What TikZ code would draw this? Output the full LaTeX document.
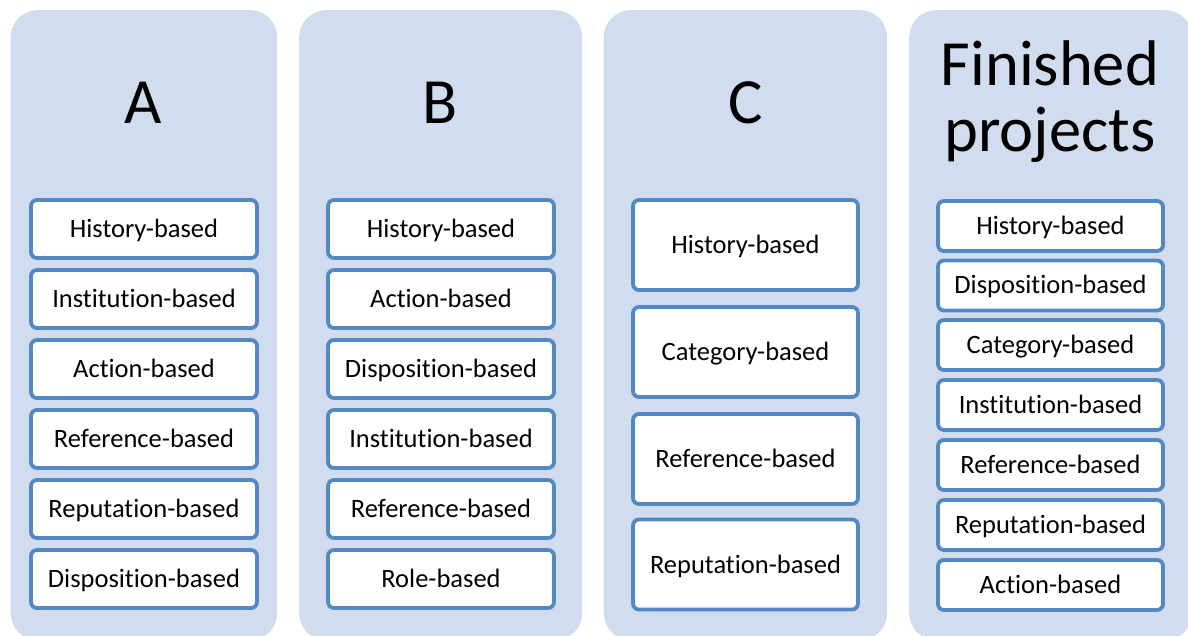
\documentclass[tikz,border=0pt]{standalone}
\usepackage{fontspec}
\setmainfont{Carlito}[Ligatures=NoCommon]
\definecolor{panelblue}{RGB}{209,220,238}
\definecolor{boxblue}{RGB}{82,136,195}
\tikzset{
  panel/.style={fill=panelblue, draw=none, rounded corners=27pt, inner sep=0pt},
  title/.style={font=\fontsize{64.5}{66}\selectfont, inner sep=0pt, anchor=base},
  item/.style={draw=boxblue, line width=3.8pt, fill=white, rounded corners=6pt,
    inner sep=0pt, font=\fontsize{26.5}{30}\selectfont, text height=17pt, text depth=0pt},
  itemA/.style={item, minimum width=226pt, minimum height=58pt},
  itemC/.style={item, minimum width=225pt, minimum height=90pt},
  itemF/.style={item, minimum width=225pt, minimum height=50pt}
}
\begin{document}
\begin{tikzpicture}[x=1pt,y=-1pt]
\useasboundingbox (0,0) rectangle (1188,636);
\clip (0,0) rectangle (1188,636);
% panels
\node[panel, minimum width=266.5pt, minimum height=630pt, anchor=north west] (pA) at (10.5,10) {};
\node[panel, minimum width=283pt, minimum height=630pt, anchor=north west] (pB) at (299,10) {};
\node[panel, minimum width=283.5pt, minimum height=630pt, anchor=north west] (pC) at (603.5,10) {};
\node[panel, minimum width=283pt, minimum height=630pt, anchor=north west] (pF) at (909,10) {};
% titles
\node[title] (tA) at (143.5,124) {A};
\node[title] (tB) at (440.5,124) {B};
\node[title] (tC) at (745.5,124) {C};
\node[title, align=center] (tF) at (1050,152) {Finished\\projects};
% column A
\node[itemA] (a1) at (144,229) {History-based};
\node[itemA] (a2) at (144,299) {Institution-based};
\node[itemA] (a3) at (144,369) {Action-based};
\node[itemA] (a4) at (144,439) {Reference-based};
\node[itemA] (a5) at (144,509) {Reputation-based};
\node[itemA] (a6) at (144,579) {Disposition-based};
% column B
\node[itemA] (b1) at (441,229) {History-based};
\node[itemA] (b2) at (441,299) {Action-based};
\node[itemA] (b3) at (441,369) {Disposition-based};
\node[itemA] (b4) at (441,439) {Institution-based};
\node[itemA] (b5) at (441,509) {Reference-based};
\node[itemA] (b6) at (441,579) {Role-based};
% column C
\node[itemC] (c1) at (745.5,245) {History-based};
\node[itemC] (c2) at (745.5,352) {Category-based};
\node[itemC] (c3) at (745.5,459) {Reference-based};
\node[itemC] (c4) at (745.5,564.5) {Reputation-based};
% column Finished
\node[itemF] (f1) at (1050.5,226) {History-based};
\node[itemF] (f2) at (1050.5,285.5) {Disposition-based};
\node[itemF] (f3) at (1050.5,345) {Category-based};
\node[itemF] (f4) at (1050.5,405) {Institution-based};
\node[itemF] (f5) at (1050.5,465) {Reference-based};
\node[itemF] (f6) at (1050.5,525) {Reputation-based};
\node[itemF] (f7) at (1050.5,585) {Action-based};
\end{tikzpicture}
\end{document}
